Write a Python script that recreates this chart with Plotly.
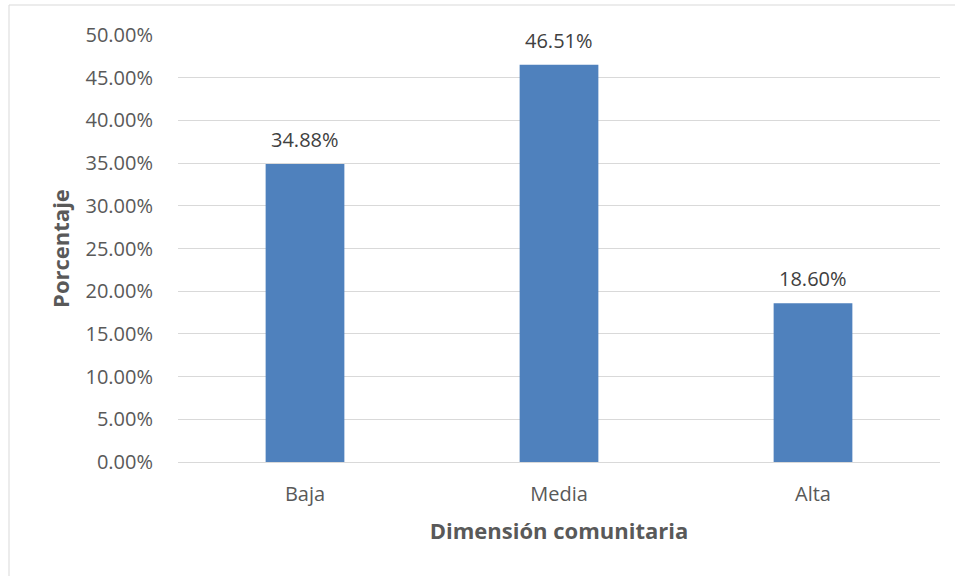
import plotly.graph_objects as go

categories = ["Baja", "Media", "Alta"]
values = [34.88, 46.51, 18.60]
labels = ["34.88%", "46.51%", "18.60%"]
tick_vals = [0, 5, 10, 15, 20, 25, 30, 35, 40, 45, 50]
tick_text = ["%.2f%%" % v for v in tick_vals]

FONT = "Open Sans"

fig = go.Figure(go.Bar(
    x=categories, y=values,
    marker=dict(color="#4F81BD", line=dict(width=0)),
))

for c, v, t in zip(categories, values, labels):
    fig.add_annotation(x=c, y=v, text=t, showarrow=False, yanchor="bottom",
                       yshift=9, font=dict(family=FONT, size=20, color="#404040"))

fig.update_layout(
    width=955, height=576,
    margin=dict(l=178, r=15, t=35, b=114),
    paper_bgcolor="white", plot_bgcolor="white",
    bargap=0.69,
    showlegend=False,
    font=dict(family=FONT, size=20, color="#595959"),
    xaxis=dict(
        showgrid=False, showline=True, linecolor="#D9D9D9", linewidth=1,
        ticks="", ticklabelstandoff=14,
        tickfont=dict(family=FONT, size=20, color="#595959"),
        title=dict(text="<b>Dimensión comunitaria</b>", standoff=17,
                   font=dict(family=FONT, size=22, color="#595959")),
    ),
    yaxis=dict(
        range=[0, 50], tickvals=tick_vals, ticktext=tick_text,
        showgrid=True, gridcolor="#D9D9D9", gridwidth=1, zeroline=False,
        showline=False, ticks="", ticklabelstandoff=24,
        tickfont=dict(family=FONT, size=20, color="#595959"),
        title=dict(text="<b>Porcentaje</b>", standoff=9,
                   font=dict(family=FONT, size=22, color="#595959")),
    ),
    shapes=[dict(type="rect", xref="paper", yref="paper",
                 x0=-(178 - 9) / 762, x1=1.2, y0=-0.5, y1=1 + (35 - 5) / 427,
                 line=dict(color="#D9D9D9", width=1), layer="below")],
)

fig.write_html("out.html", config={"displayModeBar": False},
               post_script="document.body.style.margin='0';")
